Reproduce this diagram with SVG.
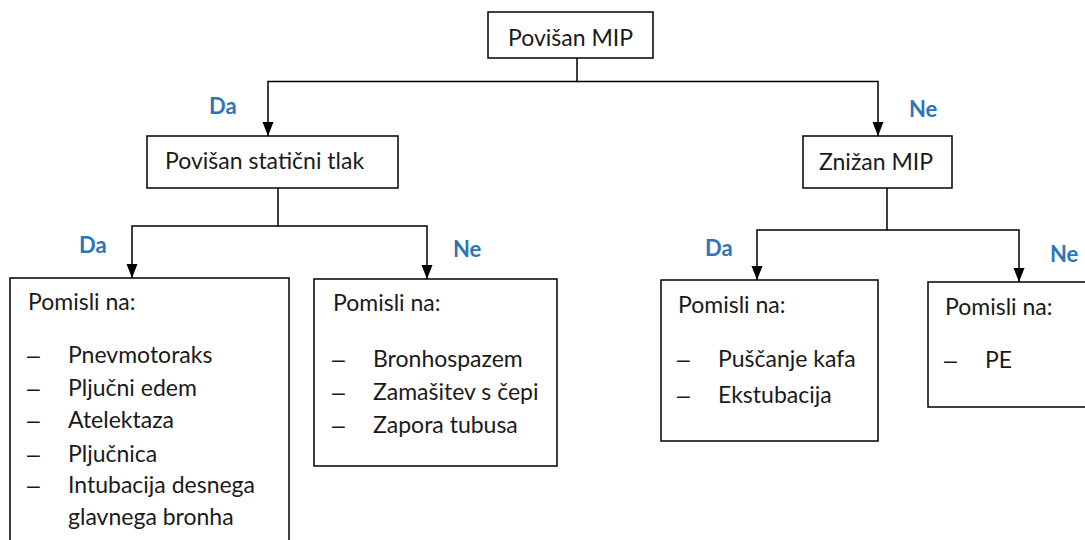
<svg xmlns="http://www.w3.org/2000/svg" width="1085" height="540" viewBox="0 0 1085 540">
<defs>
<marker id="ah" markerUnits="userSpaceOnUse" markerWidth="14" markerHeight="14" viewBox="0 0 14 14" refX="14" refY="7" orient="auto">
<path d="M0,1.5 L14,7 L0,12.5 Z" fill="#000"/>
</marker>
<style>
.box{fill:#fff;stroke:#000;stroke-width:1.5}
.t{font-family:Lato,"Open Sans",sans-serif;font-size:23px;fill:#1a1a1a}
.d{font-family:"Liberation Sans",Arial,sans-serif;font-size:23px;fill:#1a1a1a}
.lab{font-family:Lato,"Open Sans",sans-serif;font-size:22px;font-weight:bold;fill:#2E75B6}
.con{fill:none;stroke:#000;stroke-width:1.5}
</style>
</defs>
<rect width="1085" height="540" fill="#fff"/>
<g id="connectors">
<path class="con" d="M577,58 V81.5 H268 V136" marker-end="url(#ah)"/>
<path class="con" d="M577,81.5 H878 V136" marker-end="url(#ah)"/>
<path class="con" d="M278,188 V226 H132 V278" marker-end="url(#ah)"/>
<path class="con" d="M278,226 H427 V279" marker-end="url(#ah)"/>
<path class="con" d="M887,188 V230 H757 V280" marker-end="url(#ah)"/>
<path class="con" d="M887,230 H1019 V282" marker-end="url(#ah)"/>
<text class="lab" x="209" y="114">Da</text>
<text class="lab" x="909" y="117">Ne</text>
<text class="lab" x="79" y="253">Da</text>
<text class="lab" x="453" y="257">Ne</text>
<text class="lab" x="705" y="256">Da</text>
<text class="lab" x="1050" y="262">Ne</text>
</g>
<g id="root">
<rect class="box" x="488" y="12" width="165" height="46"/>
<text class="t" x="570.5" y="46" text-anchor="middle">Povišan MIP</text>
</g>
<g id="static">
<rect class="box" x="147" y="136" width="251" height="52"/>
<text class="t" x="165" y="169">Povišan statični tlak</text>
</g>
<g id="lowmip">
<rect class="box" x="803" y="136" width="149" height="52"/>
<text class="t" x="819" y="170">Znižan MIP</text>
</g>
<g id="box1">
<rect class="box" x="10" y="278" width="279" height="270"/>
<text class="t" x="28" y="310">Pomisli na:</text>
<text class="d" x="27" y="363">–</text><text class="t" x="68" y="363">Pnevmotoraks</text>
<text class="d" x="27" y="396">–</text><text class="t" x="68" y="396">Pljučni edem</text>
<text class="d" x="27" y="428">–</text><text class="t" x="68" y="428">Atelektaza</text>
<text class="d" x="27" y="462">–</text><text class="t" x="68" y="462">Pljučnica</text>
<text class="d" x="27" y="493">–</text><text class="t" x="68" y="493">Intubacija desnega</text>
<text class="t" x="68" y="525">glavnega bronha</text>
</g>
<g id="box2">
<rect class="box" x="314" y="279" width="243" height="187"/>
<text class="t" x="333" y="311">Pomisli na:</text>
<text class="d" x="332" y="367">–</text><text class="t" x="373" y="367">Bronhospazem</text>
<text class="d" x="332" y="400">–</text><text class="t" x="373" y="400">Zamašitev s čepi</text>
<text class="d" x="332" y="433">–</text><text class="t" x="373" y="433">Zapora tubusa</text>
</g>
<g id="box3">
<rect class="box" x="661" y="280" width="217" height="161"/>
<text class="t" x="678" y="313">Pomisli na:</text>
<text class="d" x="677" y="367">–</text><text class="t" x="718" y="367">Puščanje kafa</text>
<text class="d" x="677" y="403">–</text><text class="t" x="718" y="403">Ekstubacija</text>
</g>
<g id="box4">
<rect class="box" x="928" y="282" width="165" height="125"/>
<text class="t" x="945" y="315">Pomisli na:</text>
<text class="d" x="944" y="368">–</text><text class="t" x="985" y="368">PE</text>
</g>
</svg>
